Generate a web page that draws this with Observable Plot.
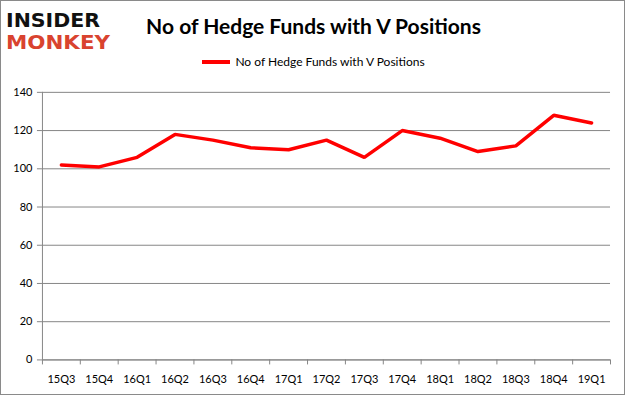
<!DOCTYPE html>
<html>
<head>
<meta charset="utf-8">
<script src="https://cdn.jsdelivr.net/npm/d3@7"></script>
<script src="https://cdn.jsdelivr.net/npm/@observablehq/plot@0.6"></script>
<style>
  html, body { margin: 0; padding: 0; background: #fff; }
  #wrap { position: relative; width: 625px; height: 395px; box-sizing: border-box; border: 1px solid #8a8a8a; overflow: hidden; font-family: Lato, "Open Sans", sans-serif; }
  #chart { position: absolute; left: -1px; top: -1px; }
  #title { position: absolute; left: 0; width: 625px; top: 12px; text-align: center; font-size: 21px; font-weight: bold; color: #000; }
  #legend { position: absolute; left: 0; width: 625px; top: 53px; text-align: center; font-size: 12px; color: #000; }
  #legend .sw { display: inline-block; width: 28px; height: 4px; background: #ff0000; vertical-align: middle; margin-right: 5px; position: relative; top: -1px; }
  #logo { position: absolute; left: 4px; top: 2px; }
</style>
</head>
<body>
<div id="wrap">
  <div id="chart"></div>
  <svg id="logo" width="116" height="56">
    <text x="1" y="24" textLength="94" lengthAdjust="spacingAndGlyphs" font-family="DejaVu Sans" font-weight="bold" font-size="19" fill="#111">INSIDER</text>
    <text x="1" y="46" textLength="104" lengthAdjust="spacingAndGlyphs" font-family="DejaVu Sans" font-weight="bold" font-size="19" fill="#d9432f">MONKEY</text>
  </svg>
  <div id="title">No of Hedge Funds with V Positions</div>
  <div id="legend"><span class="sw"></span>No of Hedge Funds with V Positions</div>
</div>
<script>
const categories = ["15Q3","15Q4","16Q1","16Q2","16Q3","16Q4","17Q1","17Q2","17Q3","17Q4","18Q1","18Q2","18Q3","18Q4","19Q1"];
const values = [102, 101, 106, 118, 115, 111, 110, 115, 106, 120, 116, 109, 112, 128, 124];
const yTicks = [0, 20, 40, 60, 80, 100, 120, 140];

const n = categories.length;
const idx = d3.range(n);
const bounds = d3.range(n + 1).map(i => i - 0.5);
const gray = "#868686";

const chart = Plot.plot({
  width: 625,
  height: 395,
  marginLeft: 42,
  marginRight: 14,
  marginTop: 92,
  marginBottom: 35,
  style: { fontFamily: "Lato, 'Open Sans', sans-serif", fontSize: "11px", color: "#000", background: "transparent" },
  x: { type: "linear", domain: [-0.5, n - 0.5] },
  y: { domain: [0, 140] },
  marks: [
    Plot.gridY(yTicks, { stroke: gray, strokeOpacity: 1, strokeWidth: 1 }),
    Plot.ruleX([-0.5], { stroke: gray }),
    Plot.ruleY([0], { stroke: gray }),
    Plot.axisY(yTicks, { tickSize: 5, tickPadding: 5, stroke: gray, fill: "#000", label: null }),
    Plot.axisX(bounds, { tickSize: 5, tickFormat: () => "", stroke: gray, label: null }),
    Plot.axisX(idx, { tickSize: 0, tickPadding: 15, tickFormat: i => categories[i], fill: "#000", label: null }),
    Plot.line(idx, { x: i => i, y: i => values[i], stroke: "#ff0000", strokeWidth: 3.5, strokeLinejoin: "miter" })
  ]
});
document.getElementById("chart").appendChild(chart);
</script>
</body>
</html>
